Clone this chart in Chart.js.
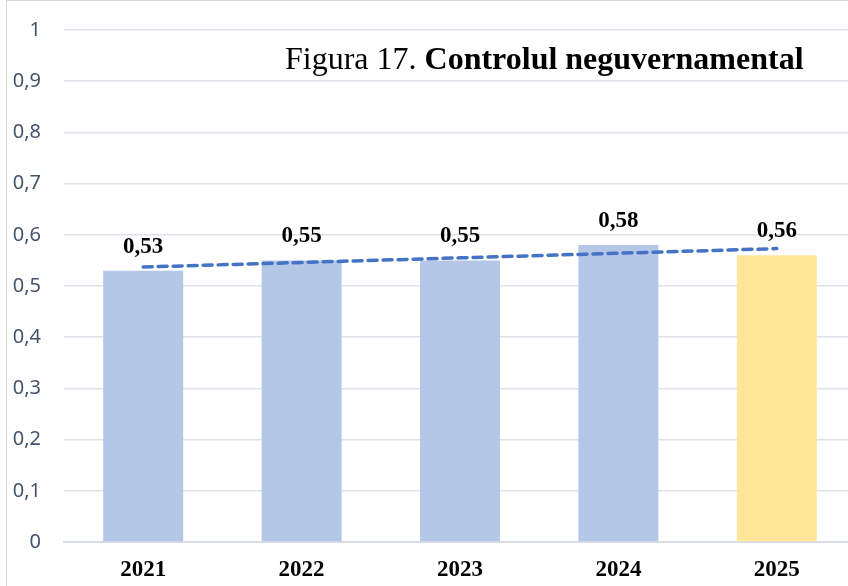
<!DOCTYPE html>
<html>
<head>
<meta charset="utf-8">
<script src="https://cdn.jsdelivr.net/npm/chart.js@4"></script>
<style>
  html, body { margin: 0; padding: 0; background: #fff; overflow: hidden; }
  #wrap { position: absolute; left: 0; top: -5px; width: 860px; height: 591px; }
  #frame { position: absolute; left: 6px; top: 0; width: 900px; height: 700px;
           border-left: 1px solid #d9d9d9; border-top: 1px solid #d9d9d9; }
</style>
</head>
<body>
<div id="frame"></div>
<div id="wrap"><canvas id="chart" width="860" height="591"></canvas></div>
<script>
const years = ['2021', '2022', '2023', '2024', '2025'];
const scores = [0.53, 0.55, 0.55, 0.58, 0.56];
// dashed trend line
const trend = [0.537, 0.546, 0.555, 0.564, 0.573];
const yTicks = [0, 0.1, 0.2, 0.3, 0.4, 0.5, 0.6, 0.7, 0.8, 0.9, 1];

const barColors = years.map((y, i) => i === years.length - 1 ? '#ffe699' : '#b4c7e7');
const fmt = v => String(v).replace('.', ',');

const valueLabels = {
    id: 'valueLabels',
    afterDatasetsDraw(chart) {
        const ctx = chart.ctx;
        const meta = chart.getDatasetMeta(1);
        ctx.save();
        ctx.font = 'bold 23px "Liberation Serif"';
        ctx.fillStyle = '#000';
        ctx.textAlign = 'center';
        ctx.textBaseline = 'alphabetic';
        meta.data.forEach((bar, i) => {
            ctx.fillText(fmt(scores[i]), bar.x, bar.y - 18);
        });
        ctx.restore();
    }
};

const titleText = {
    id: 'titleText',
    afterDraw(chart) {
        const ctx = chart.ctx;
        const top = chart.chartArea.top;
        ctx.save();
        ctx.fillStyle = '#000';
        ctx.textBaseline = 'alphabetic';
        ctx.font = '32px "Liberation Serif"';
        const a = 'Figura 17. ';
        ctx.fillText(a, 285, top + 39);
        const w = ctx.measureText(a).width;
        ctx.font = 'bold 32px "Liberation Serif"';
        ctx.fillText('Controlul neguvernamental', 285 + w, top + 39);
        ctx.restore();
    }
};

new Chart(document.getElementById('chart'), {
    data: {
        labels: years,
        datasets: [{
            type: 'line',
            label: 'Trend',
            data: trend,
            borderColor: '#4472c4',
            borderWidth: 3.5,
            borderDash: [9, 6],
            borderCapStyle: 'round',
            pointRadius: 0,
            fill: false,
            order: 0
        }, {
            type: 'bar',
            label: 'Scor',
            data: scores,
            backgroundColor: barColors,
            barPercentage: 1,
            categoryPercentage: 0.505,
            order: 1
        }]
    },
    options: {
        responsive: false,
        animation: false,
        layout: { padding: { top: 25, right: 4, left: 0, bottom: 0 } },
        plugins: { legend: { display: false }, tooltip: { enabled: false } },
        scales: {
            x: {
                grid: { display: false, drawTicks: false },
                border: { color: '#d9dde6', width: 2 },
                ticks: {
                    padding: 14,
                    color: '#000',
                    font: { family: 'Liberation Serif', size: 23, weight: 'bold' }
                },
                afterFit(s) { s.height = 44; }
            },
            y: {
                min: 0,
                max: 1,
                afterBuildTicks(s) { s.ticks = yTicks.map(v => ({ value: v })); },
                grid: { color: '#dde1e8', lineWidth: 1.5, drawTicks: false },
                border: { display: false },
                ticks: {
                    padding: 23,
                    color: '#44546a',
                    font: { family: 'Noto Sans', size: 20 },
                    callback: v => fmt(v)
                },
                afterFit(s) { s.width = 64; }
            }
        }
    },
    plugins: [valueLabels, titleText]
});
</script>
</body>
</html>
